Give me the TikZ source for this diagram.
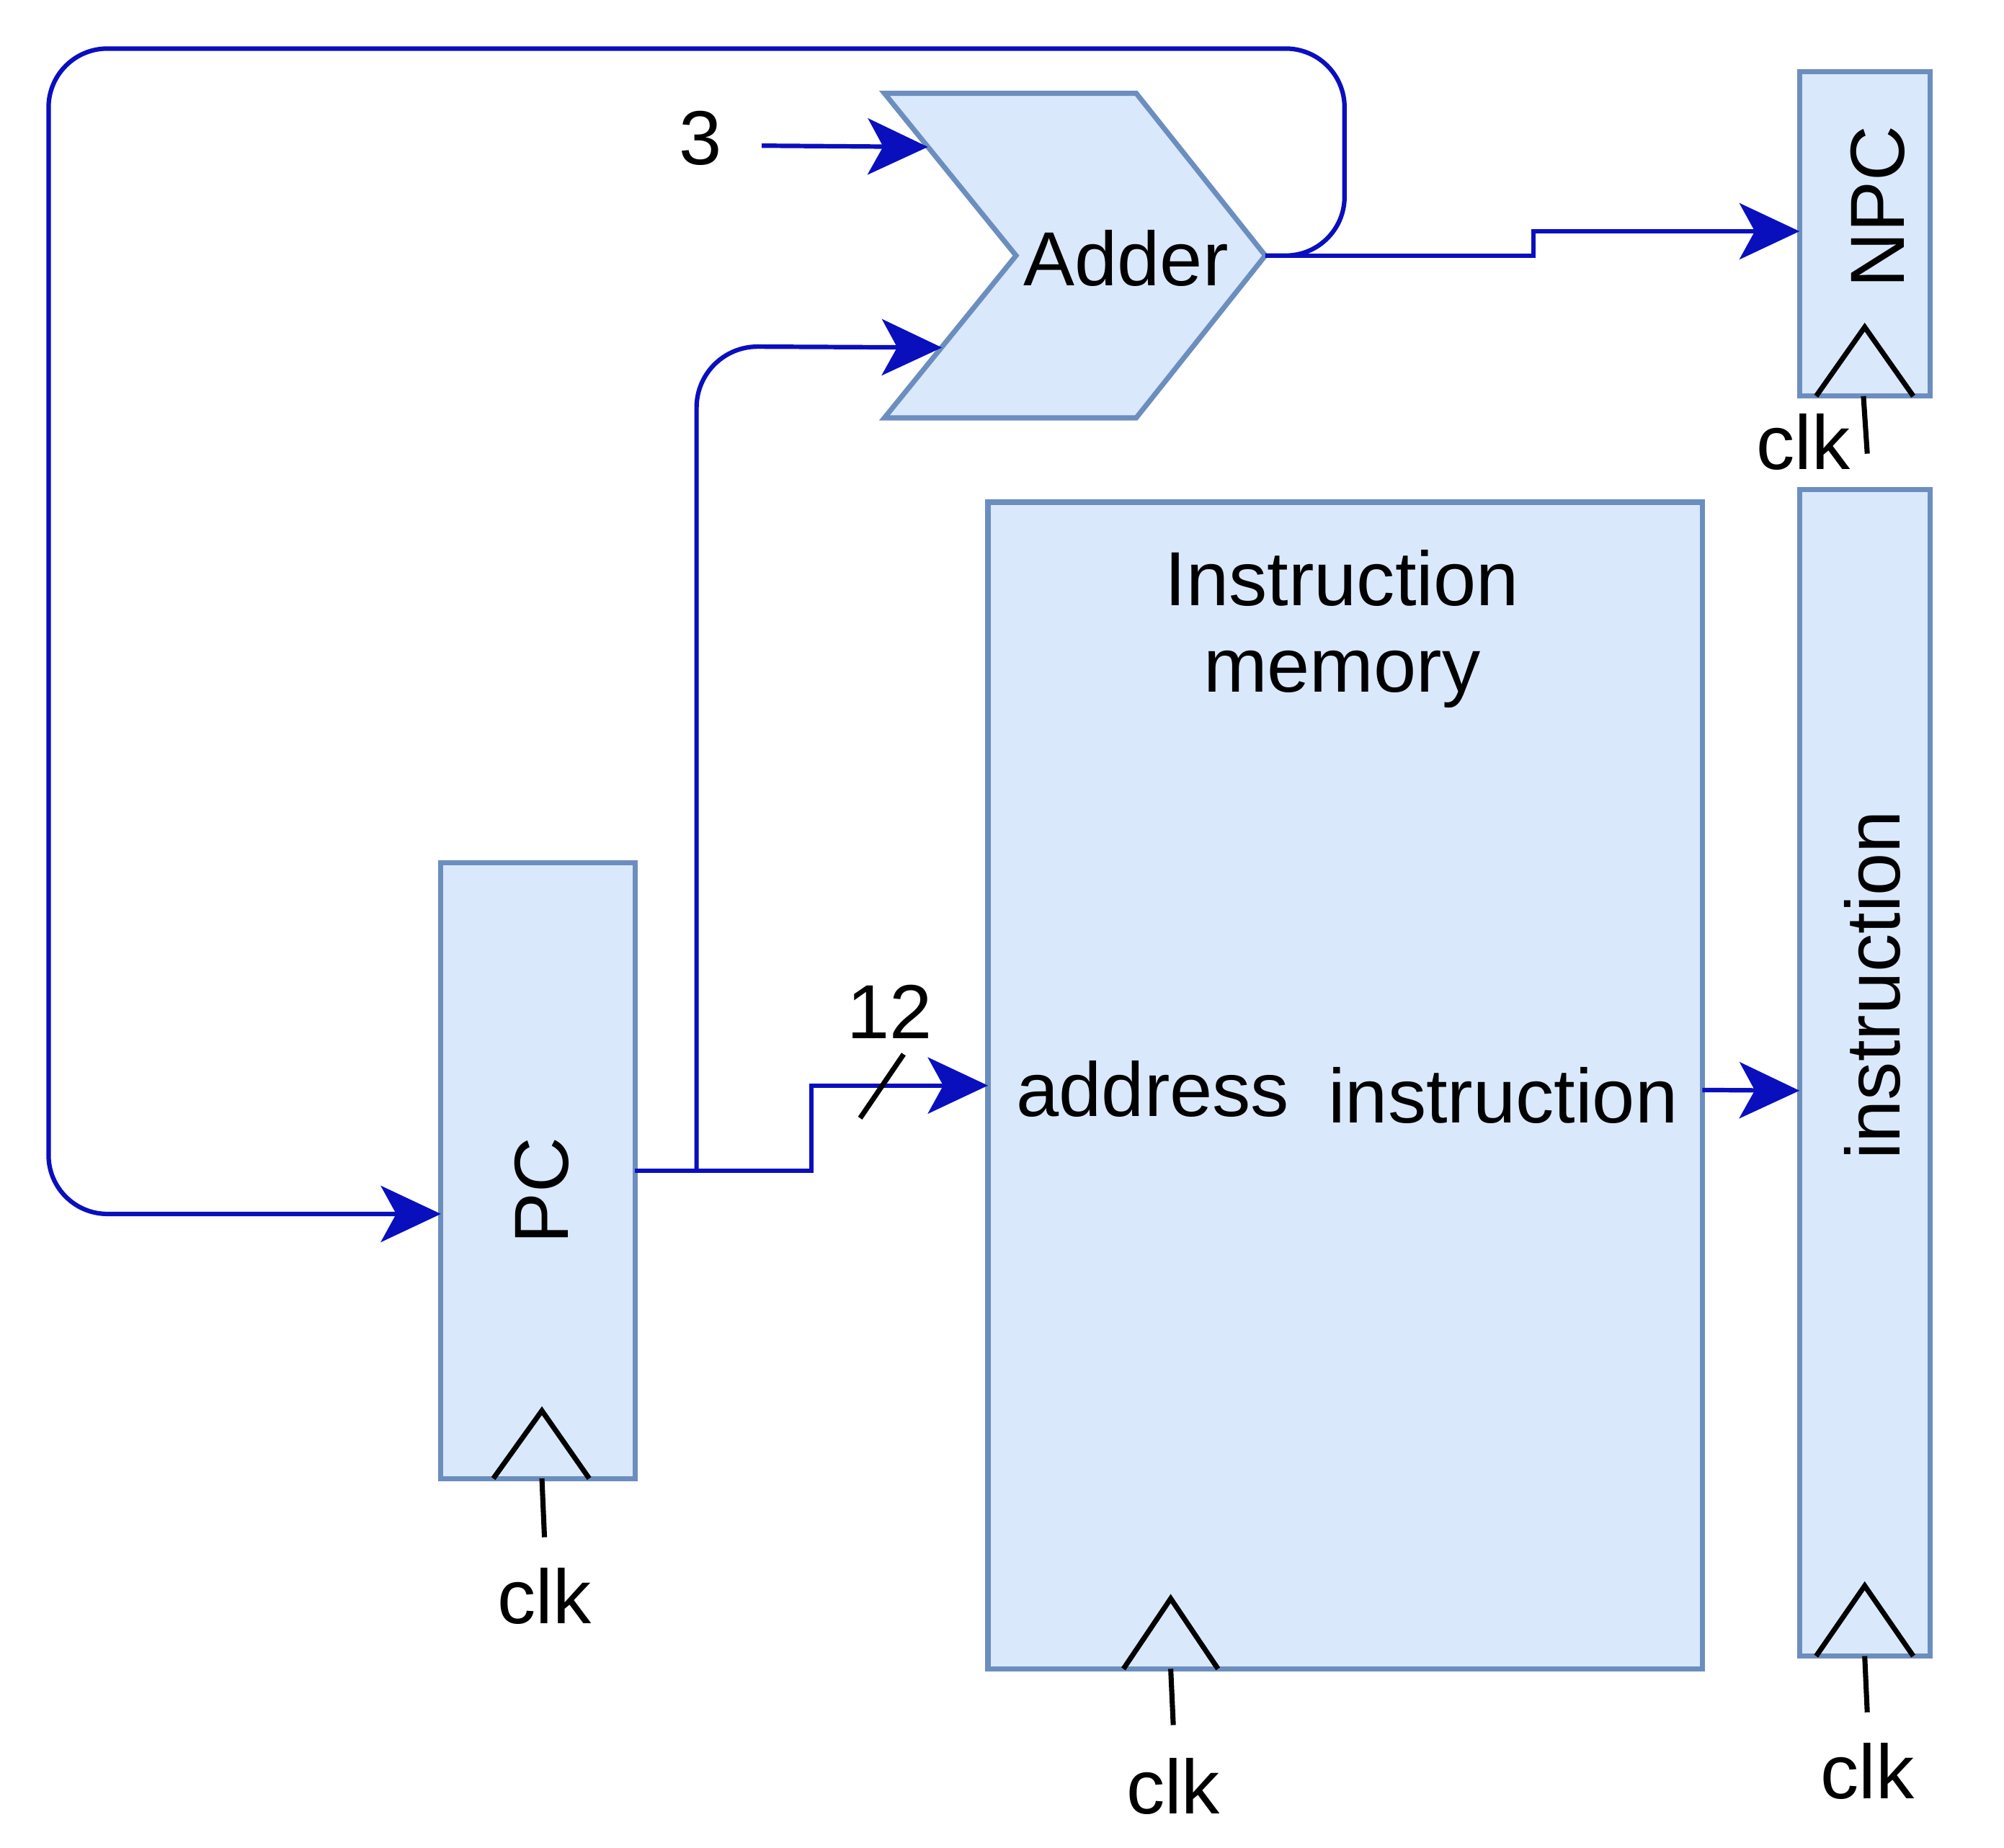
\documentclass[tikz,border=0pt]{standalone}
\usepackage{fontspec}
\setmainfont{Liberation Sans}
\usetikzlibrary{arrows.meta,calc}
\definecolor{wire}{RGB}{10,15,190}
\definecolor{boxfill}{HTML}{DAE8FC}
\definecolor{boxline}{HTML}{6C8EBF}
\begin{document}
\begin{tikzpicture}[x=1pt,y=-1pt,
  blk/.style={draw=boxline,fill=boxfill,line width=4pt,inner sep=0pt,outer sep=0pt},
  wirestyle/.style={draw=wire,line width=3.5pt},
  arr/.style={wirestyle,-{Stealth[length=47pt,width=44pt,inset=12pt]}},
  clkline/.style={draw=black,line width=4pt},
  lbl/.style={inner sep=0pt,font=\fontsize{60}{68}\selectfont,text=black},
]
\fill[white] (0,0) rectangle (1568,1446);
\useasboundingbox (0,0) rectangle (1568,1446);

% blocks
\node[blk,minimum width=152,minimum height=482] (pc) at (421,916) {};
\node[blk,minimum width=559,minimum height=913] (mem) at (1052.5,849.5) {};
\node[blk,minimum width=102,minimum height=913] (ir) at (1459,839.5) {};
\node[blk,minimum width=102,minimum height=254] (npc) at (1459,183) {};
\draw[blk] (692,73) -- (889,73) -- (990,200) -- (889,327) -- (692,327) -- (795,200) -- cycle;
\node[lbl] (adder) at (881,202) {Adder};
\coordinate (addout) at (990,200);
\coordinate (addin1) at (726,115);
\coordinate (addin2) at (737,272);

% labels
\node[lbl,rotate=90] (pclbl) at (424,932) {PC};
\node[lbl,rotate=90] (npclbl) at (1469,162) {NPC};
\node[lbl,rotate=90] (irlbl) at (1465,771) {instruction};
\node[lbl,align=center,anchor=north] (memlbl) at (1050,430) {Instruction\\memory};
\node[lbl] (addrlbl) at (902,852) {address};
\node[lbl] (instlbl) at (1176,857) {instruction};
\node[lbl] (three) at (548,108) {3};
\node[lbl] (twelve) at (696,792) {12};

% clocks
\draw[clkline] ($(pc.south)+(-35,0)$) -- ($(pc.south)+(3,-53)$) -- ($(pc.south)+(40,0)$);
\draw[clkline] ($(pc.south)+(3,0)$) -- ($(pc.south)+(5,46)$);
\node[lbl] (clkpc) at (426,1249) {clk};

\draw[clkline] (879,1306) -- (916,1251) -- (953,1306);
\draw[clkline] (916,1306) -- (918,1350);
\node[lbl] (clkmem) at (918,1398) {clk};

\draw[clkline] (1421,1296) -- (1459,1241) -- (1497,1296);
\draw[clkline] (1459,1296) -- (1461,1340);
\node[lbl] (clkir) at (1461,1386) {clk};

\draw[clkline] (1421,310) -- (1459,256) -- (1497,310);
\draw[clkline] (1458,310) -- (1461,355);
\node[lbl] (clknpc) at (1411,346) {clk};

% connectors
\coordinate (threeout) at (596,114);
\draw[arr] (threeout) -- (addin1);
\draw[arr,rounded corners=46] (addout) -- (1052,200) -- (1052,38) -- (38,38) -- (38,950) -- ($(pc.west)+(0,34)$);
\draw[arr] (addout) -- (1200,200) |- ($(npc.west)+(0,-2)$);
\coordinate (jn) at (545,916);
\draw[arr] (pc.east) -- (635,916) |- (mem.west);
\draw[arr,rounded corners=48] (jn) -- (545,271) -- (addin2);
\draw[clkline] (673,875) -- (707,825);
\draw[arr] ($(mem.east)+(0,3.5)$) -- ($(ir.west)+(0,14)$);
\end{tikzpicture}
\end{document}
